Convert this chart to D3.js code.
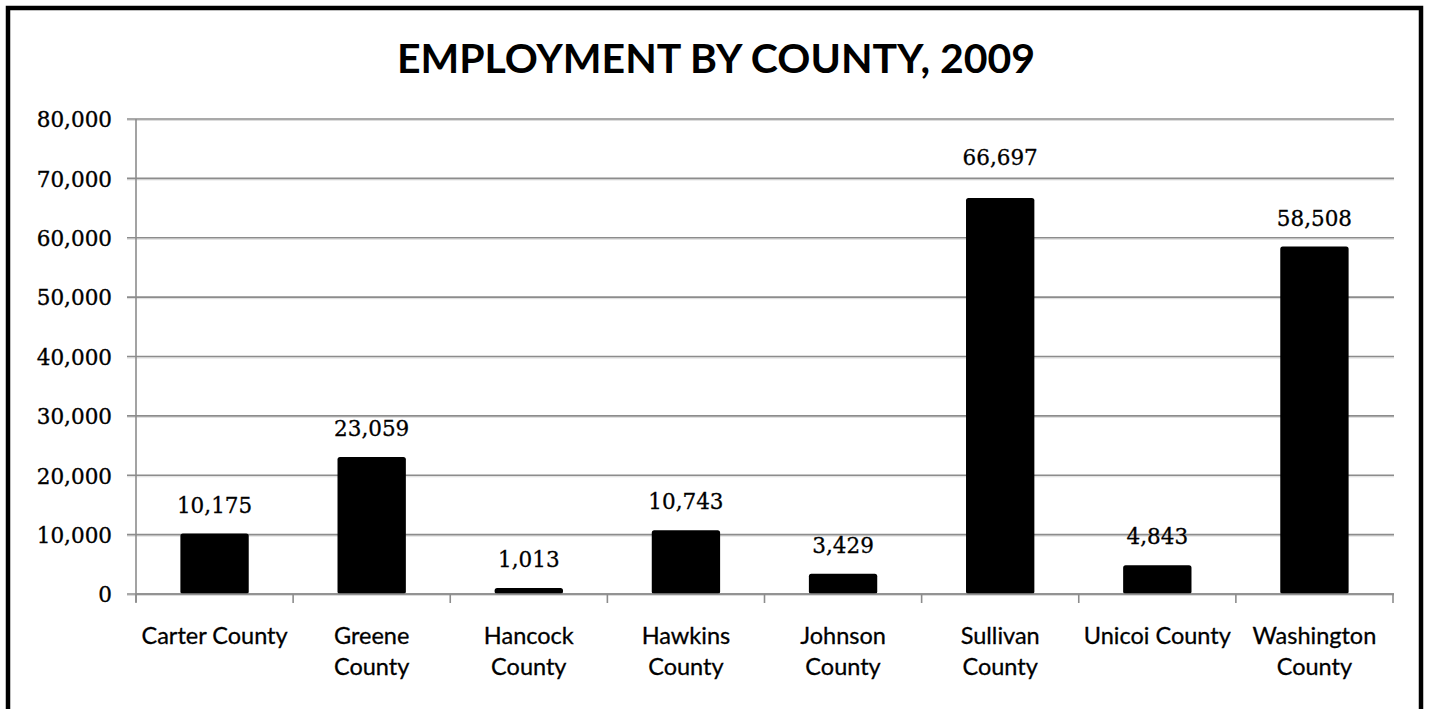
<!DOCTYPE html>
<html>
<head>
<meta charset="utf-8">
<script src="https://cdn.jsdelivr.net/npm/d3@7"></script>
<style>
  html, body { margin: 0; padding: 0; background: #fff; }
  svg { display: block; }
</style>
</head>
<body>
<svg id="chart" width="1429" height="709"></svg>
<script>
// Employment by county, 2009
const counties = ["Carter County", "Greene County", "Hancock County", "Hawkins County",
                  "Johnson County", "Sullivan County", "Unicoi County", "Washington County"];
const countyLabelLines = [["Carter County"], ["Greene", "County"], ["Hancock", "County"],
                          ["Hawkins", "County"], ["Johnson", "County"], ["Sullivan", "County"],
                          ["Unicoi County"], ["Washington", "County"]];
const employment = [10175, 23059, 1013, 10743, 3429, 66697, 4843, 58508];
const yTicks = [0, 10000, 20000, 30000, 40000, 50000, 60000, 70000, 80000];
const titleText = "EMPLOYMENT BY COUNTY, 2009";

const svg = d3.select("#chart");
const W = 1429, H = 709;
const plot = { left: 136, right: 1393, top: 119, bottom: 594 };

// outer frame
svg.append("rect")
  .attr("x", 0).attr("y", 0).attr("width", W).attr("height", H).attr("fill", "#fff");
svg.append("rect")
  .attr("x", 8).attr("y", 8).attr("width", 1413).attr("height", 730)
  .attr("fill", "none").attr("stroke", "#000").attr("stroke-width", 4.5);

// title
svg.append("text")
  .attr("x", 716).attr("y", 73)
  .attr("text-anchor", "middle")
  .attr("font-family", "Lato, 'Open Sans', sans-serif")
  .attr("font-weight", "bold")
  .attr("font-size", 41)
  .attr("fill", "#000")
  .text(titleText);

const x = d3.scaleBand()
  .domain(counties)
  .range([plot.left, plot.right])
  .paddingInner(0.565)
  .paddingOuter(0.2825);

const y = d3.scaleLinear()
  .domain([0, 80000])
  .range([plot.bottom, plot.top]);

// horizontal gridlines with a faint shadow line under each
const gridG = svg.append("g");
yTicks.forEach(t => {
  gridG.append("line")
    .attr("x1", plot.left - 9).attr("x2", plot.right + 1)
    .attr("y1", y(t) + 1.5).attr("y2", y(t) + 1.5)
    .attr("stroke", "#dcdcdc").attr("stroke-width", 1);
  gridG.append("line")
    .attr("x1", plot.left - 9).attr("x2", plot.right + 1)
    .attr("y1", y(t)).attr("y2", y(t))
    .attr("stroke", "#8c8c8c").attr("stroke-width", 1.6);
});

// y axis labels
const yAxis = d3.axisLeft(y)
  .tickValues(yTicks)
  .tickFormat(d3.format(","))
  .tickSize(0)
  .tickPadding(24);
const yG = svg.append("g")
  .attr("transform", `translate(${plot.left},0)`)
  .call(yAxis);
yG.select(".domain").remove();
yG.selectAll("text")
  .attr("font-family", "'DejaVu Serif', serif")
  .attr("font-size", 21.5)
  .attr("fill", "#000")
  .attr("stroke", "#000")
  .attr("stroke-width", 0.35)
  .attr("dy", "0.36em");

// vertical axis line
svg.append("line")
  .attr("x1", plot.left).attr("x2", plot.left)
  .attr("y1", plot.top).attr("y2", plot.bottom + 8)
  .attr("stroke", "#8c8c8c").attr("stroke-width", 1.6);

// bars
svg.append("g").selectAll("rect")
  .data(employment)
  .join("rect")
  .attr("x", (d, i) => x(counties[i]))
  .attr("y", d => y(d))
  .attr("width", x.bandwidth())
  .attr("height", d => y(0) - y(d))
  .attr("rx", 2.5)
  .attr("fill", "#000");

// category boundary ticks
const step = x.step();
const tickXs = d3.range(counties.length + 1).map(i =>
  i === 0 ? plot.left : x(counties[i - 1]) + x.bandwidth() + step * 0.2825);
svg.append("g").selectAll("line")
  .data(tickXs)
  .join("line")
  .attr("x1", d => d).attr("x2", d => d)
  .attr("y1", plot.bottom).attr("y2", plot.bottom + 9)
  .attr("stroke", "#8c8c8c").attr("stroke-width", 1.6);

// baseline
svg.append("line")
  .attr("x1", plot.left).attr("x2", plot.right + 1)
  .attr("y1", plot.bottom).attr("y2", plot.bottom)
  .attr("stroke", "#8c8c8c").attr("stroke-width", 1.6);

// value labels (the tallest one sits a little higher, clear of its gridline)
const extraLift = { "Sullivan County": 12 };
svg.append("g").selectAll("text")
  .data(employment)
  .join("text")
  .attr("x", (d, i) => x(counties[i]) + x.bandwidth() / 2)
  .attr("y", (d, i) => y(d) - 21 - (extraLift[counties[i]] || 0))
  .attr("text-anchor", "middle")
  .attr("font-family", "'DejaVu Serif', serif")
  .attr("font-size", 21.5)
  .attr("fill", "#000")
  .attr("stroke", "#000")
  .attr("stroke-width", 0.3)
  .text(d => d3.format(",")(d));

// category labels
const catG = svg.append("g").selectAll("text")
  .data(countyLabelLines)
  .join("text")
  .attr("x", (d, i) => x(counties[i]) + x.bandwidth() / 2)
  .attr("y", 644)
  .attr("text-anchor", "middle")
  .attr("font-family", "Lato, 'Open Sans', sans-serif")
  .attr("font-size", 23.5)
  .attr("fill", "#000")
  .attr("stroke", "#000")
  .attr("stroke-width", 0.3);
catG.selectAll("tspan")
  .data(d => d)
  .join("tspan")
  .attr("x", function () { return d3.select(this.parentNode).attr("x"); })
  .attr("dy", (d, j) => j === 0 ? 0 : 31)
  .text(d => d);
</script>
</body>
</html>
